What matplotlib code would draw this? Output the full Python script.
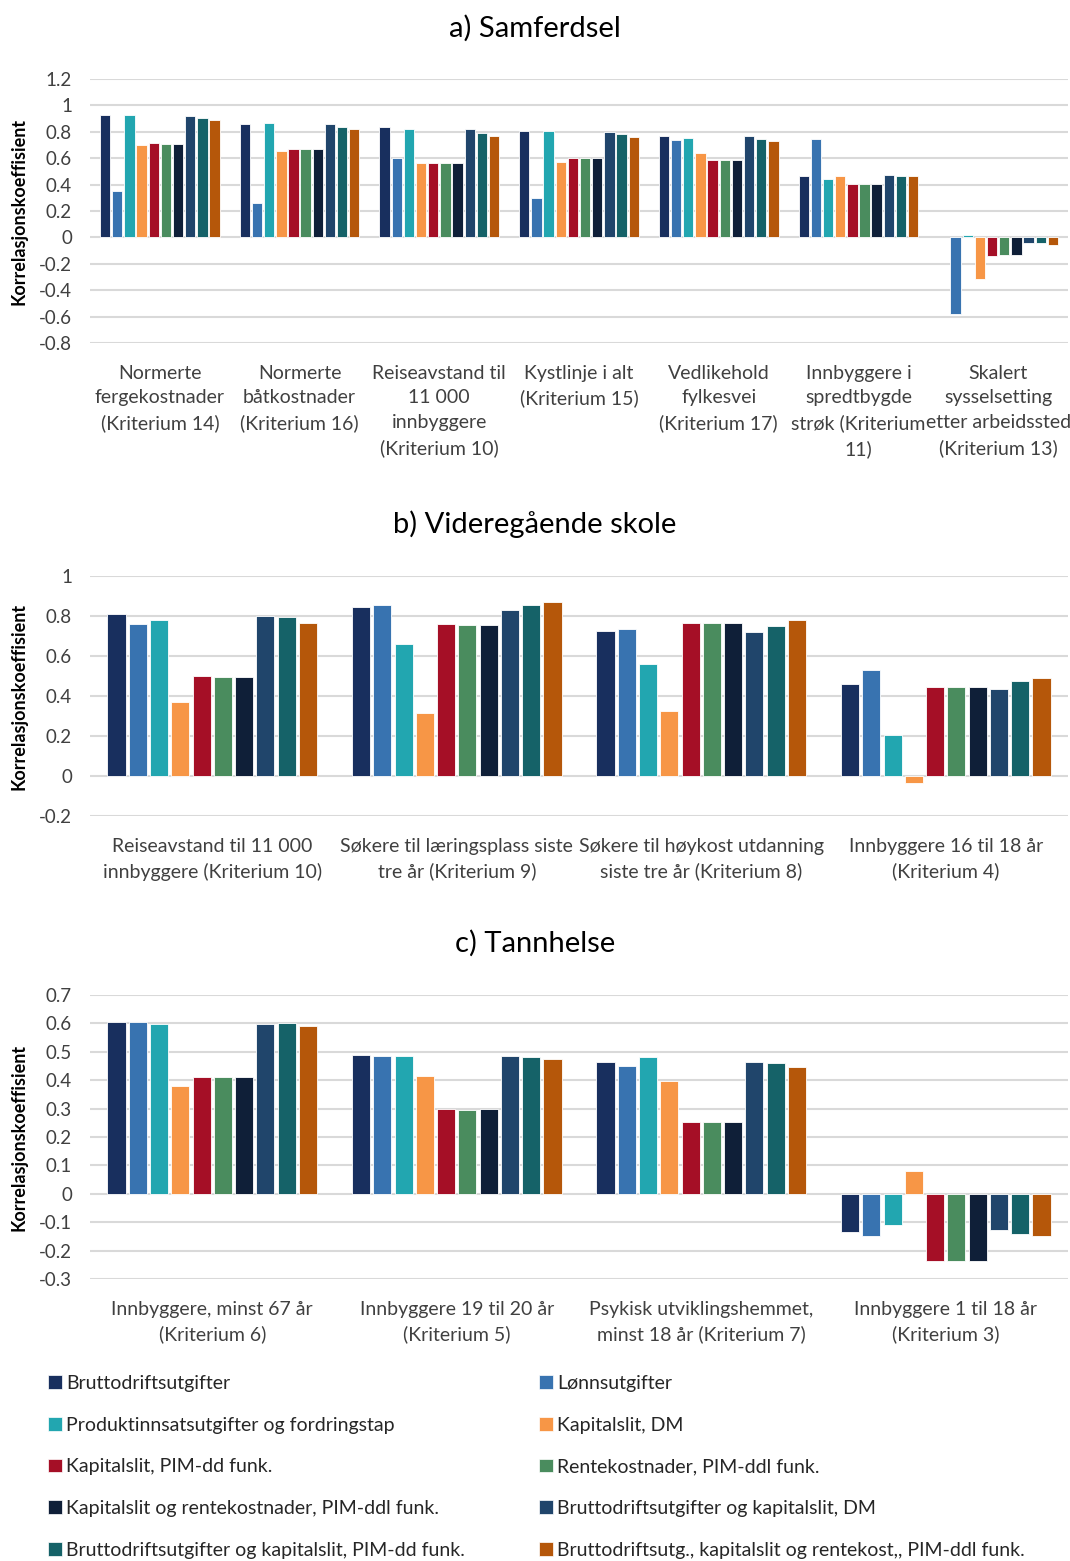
import numpy as np
import matplotlib
matplotlib.use("Agg")
import matplotlib.pyplot as plt
from matplotlib.patches import Patch

plt.rcParams['font.family'] = ['Lato', 'DejaVu Sans']

series = [
    "Bruttodriftsutgifter",
    "Lønnsutgifter",
    "Produktinnsatsutgifter og fordringstap",
    "Kapitalslit, DM",
    "Kapitalslit, PIM-dd funk.",
    "Rentekostnader, PIM-ddl funk.",
    "Kapitalslit og rentekostnader, PIM-ddl funk.",
    "Bruttodriftsutgifter og kapitalslit, DM",
    "Bruttodriftsutgifter og kapitalslit, PIM-dd funk.",
    "Bruttodriftsutg., kapitalslit og rentekost,, PIM-ddl funk.",
]
colors = ["#182f5e", "#3873b0", "#22a6b0", "#f79646", "#a50f26",
          "#4a8c5e", "#0f1f38", "#20456b", "#156268", "#b5570a"]

# Panel a) Samferdsel  (rows = categories, columns = series)
cats_a = [
    "Normerte\nfergekostnader\n(Kriterium 14)",
    "Normerte\nbåtkostnader\n(Kriterium 16)",
    "Reiseavstand til\n11 000\ninnbyggere\n(Kriterium 10)",
    "Kystlinje i alt\n(Kriterium 15)",
    "Vedlikehold\nfylkesvei\n(Kriterium 17)",
    "Innbyggere i\nspredtbygde\nstrøk (Kriterium\n11)",
    "Skalert\nsysselsetting\netter arbeidssted\n(Kriterium 13)",
]
vals_a = [
    [0.927, 0.352, 0.929, 0.701, 0.714, 0.711, 0.711, 0.922, 0.901, 0.886],
    [0.861, 0.258, 0.866, 0.653, 0.668, 0.668, 0.668, 0.858, 0.838, 0.823],
    [0.833, 0.600, 0.818, 0.562, 0.567, 0.567, 0.567, 0.818, 0.790, 0.765],
    [0.803, 0.296, 0.808, 0.575, 0.600, 0.600, 0.600, 0.795, 0.780, 0.759],
    [0.770, 0.739, 0.752, 0.638, 0.590, 0.590, 0.590, 0.770, 0.747, 0.732],
    [0.466, 0.749, 0.443, 0.463, 0.405, 0.405, 0.405, 0.471, 0.463, 0.463],
    [np.nan, -0.580, 0.018, -0.314, -0.139, -0.134, -0.137, -0.040, -0.040, -0.056],
]
ticks_a = [-0.8, -0.6, -0.4, -0.2, 0, 0.2, 0.4, 0.6, 0.8, 1, 1.2]

# Panel b) Videregående skole
cats_b = [
    "Reiseavstand til 11 000\ninnbyggere (Kriterium 10)",
    "Søkere til læringsplass siste\ntre år (Kriterium 9)",
    "Søkere til høykost utdanning\nsiste tre år (Kriterium 8)",
    "Innbyggere 16 til 18 år\n(Kriterium 4)",
]
vals_b = [
    [0.808, 0.760, 0.780, 0.368, 0.500, 0.497, 0.497, 0.802, 0.795, 0.767],
    [0.843, 0.853, 0.658, 0.315, 0.760, 0.757, 0.757, 0.830, 0.857, 0.868],
    [0.725, 0.737, 0.558, 0.325, 0.767, 0.763, 0.767, 0.718, 0.750, 0.782],
    [0.462, 0.532, 0.203, -0.035, 0.447, 0.443, 0.443, 0.437, 0.475, 0.488],
]
ticks_b = [-0.2, 0, 0.2, 0.4, 0.6, 0.8, 1]

# Panel c) Tannhelse
cats_c = [
    "Innbyggere, minst 67 år\n(Kriterium 6)",
    "Innbyggere 19 til 20 år\n(Kriterium 5)",
    "Psykisk utviklingshemmet,\nminst 18 år (Kriterium 7)",
    "Innbyggere 1 til 18 år\n(Kriterium 3)",
]
vals_c = [
    [0.605, 0.605, 0.599, 0.379, 0.413, 0.413, 0.413, 0.599, 0.600, 0.592],
    [0.487, 0.485, 0.485, 0.416, 0.298, 0.295, 0.298, 0.485, 0.481, 0.474],
    [0.464, 0.451, 0.482, 0.398, 0.254, 0.252, 0.254, 0.464, 0.459, 0.447],
    [-0.136, -0.149, -0.109, 0.081, -0.238, -0.238, -0.238, -0.126, -0.140, -0.147],
]
ticks_c = [-0.3, -0.2, -0.1, 0, 0.1, 0.2, 0.3, 0.4, 0.5, 0.6, 0.7]

fig = plt.figure(figsize=(10.70, 15.61), dpi=100)
W, H = 1070, 1561

def fmt(t):
    if abs(t) < 1e-9:
        return "0"
    s = f"{t:.1f}"
    if s.endswith(".0"):
        s = s[:-2]
    return s

def panel(top_px, bot_px, title, title_y, cats, vals, ticks):
    ax = fig.add_axes([90 / W, 1 - bot_px / H, 978 / W, (bot_px - top_px) / H])
    vals = np.array(vals, dtype=float)
    n = len(cats)
    x = np.arange(n)
    pitch = 0.087
    width = 0.074
    for j in range(len(series)):
        off = (j - 4.5) * pitch
        ax.bar(x + off, vals[:, j], width=width, color=colors[j],
               edgecolor="white", linewidth=0.6, zorder=3)
    ax.set_xlim(-0.5, n - 0.5)
    ax.set_ylim(ticks[0], ticks[-1])
    ax.set_yticks(ticks)
    ax.set_yticklabels([fmt(t) for t in ticks], fontsize=13.5, color="#404040")
    ax.yaxis.grid(True, color="#d9d9d9", linewidth=1.5, zorder=0)
    ax.set_axisbelow(True)
    ax.set_xticks(x)
    ax.set_xticklabels(cats, fontsize=14, color="#404040", linespacing=1.55)
    ax.tick_params(axis="x", length=0, pad=15.5)
    ax.tick_params(axis="y", length=0, pad=13)
    for s in ax.spines.values():
        s.set_visible(False)
    ax.set_ylabel("Korrelasjonskoeffisient", fontsize=13, fontweight="bold",
                  color="black")
    ax.yaxis.set_label_coords(-62 / 978, 0.5)
    fig.text(0.5, 1 - title_y / H, title, ha="center", va="center", fontsize=21, color="black")
    return ax

panel(79, 343, "a) Samferdsel", 28, cats_a, vals_a, ticks_a)
panel(576, 816, "b) Videregående skole", 524, cats_b, vals_b, ticks_b)
panel(995, 1279, "c) Tannhelse", 943, cats_c, vals_c, ticks_c)

# Legend (two columns, row-wise order)
for col, x0 in enumerate([48, 539]):
    idx = list(range(col, 10, 2))
    handles = [Patch(facecolor=colors[i], edgecolor="white", linewidth=0.5) for i in idx]
    labels = [series[i] for i in idx]
    fig.legend(handles, labels, loc="upper left",
               bbox_to_anchor=(x0 / W, 1 - 1375 / H),
               frameon=False, fontsize=14, labelspacing=1.27,
               handlelength=0.7, handleheight=0.7, handletextpad=0.25,
               borderaxespad=0, borderpad=0, labelcolor="#262626")

fig.savefig("out.png", dpi=100)
